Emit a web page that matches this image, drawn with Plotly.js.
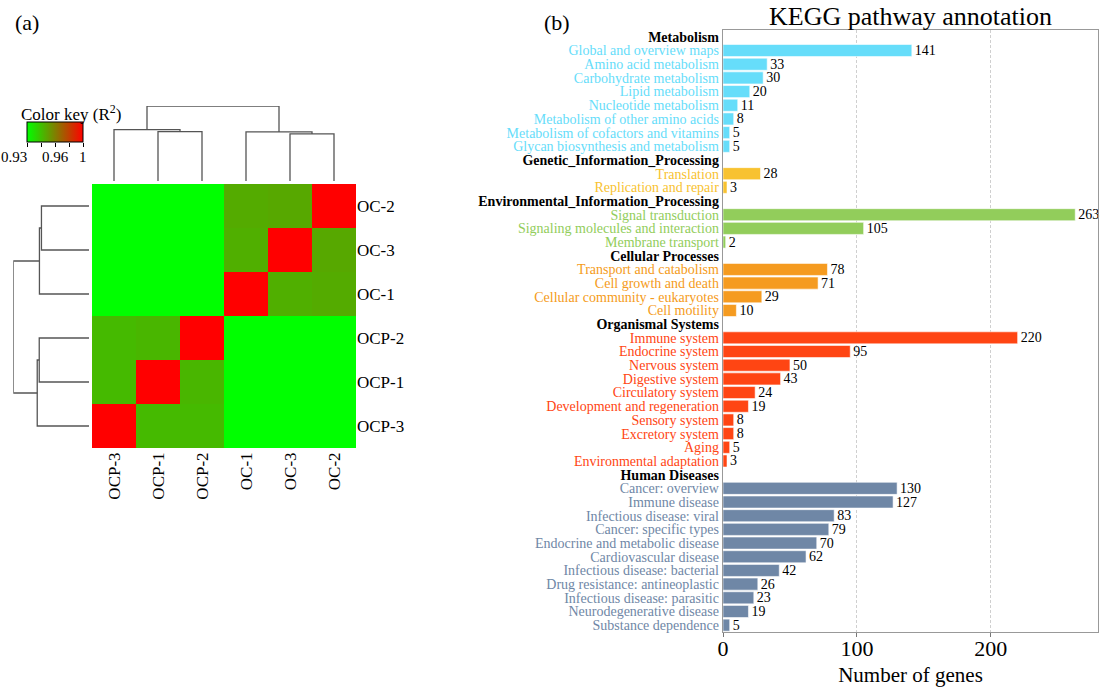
<!DOCTYPE html>
<html>
<head>
<meta charset="utf-8">
<script src="https://cdn.plot.ly/plotly-3.0.1.min.js"></script>
<style>html,body{margin:0;padding:0;background:#fff;}#chart{width:1105px;height:689px;}</style>
</head>
<body>
<div id="chart"></div>
<script>
// ---------------- DATA ----------------
// (a) correlation heatmap, samples in clustered order (left->right, bottom->top)
const sampleOrder = ['OCP-3', 'OCP-1', 'OCP-2', 'OC-1', 'OC-3', 'OC-2'];
const r2Matrix = [
  [1.000, 0.949, 0.949, 0.928, 0.928, 0.928],
  [0.949, 1.000, 0.950, 0.928, 0.928, 0.928],
  [0.949, 0.950, 1.000, 0.928, 0.928, 0.928],
  [0.928, 0.928, 0.928, 1.000, 0.952, 0.953],
  [0.928, 0.928, 0.928, 0.952, 1.000, 0.954],
  [0.928, 0.928, 0.928, 0.953, 0.954, 1.000]
];
// hierarchical clustering merges (mN = result of merge N)
const mergeA = ['OC-3', 'OC-1', 'OCP-1', 'OCP-3', 'm3'];
const mergeB = ['OC-2', 'm0', 'OCP-2', 'm2', 'm1'];
const mergeHeight = [47.3, 49.3, 49.5, 51.5, 75.3];
// colour key
const keyMin = 0.93, keyMax = 1;
const keyTickVals = [0.93, 0.9475, 0.965, 0.9825, 1];
const keyLabelVals = [0.93, 0.965, 1];
const keyLabelText = ['0.93', '0.96', '1'];

// (b) KEGG pathway annotation
const groupNames = ['Metabolism', 'Genetic_Information_Processing', 'Environmental_Information_Processing',
  'Cellular Processes', 'Organismal Systems', 'Human Diseases'];
const metabolismPathways = ['Global and overview maps', 'Amino acid metabolism', 'Carbohydrate metabolism',
  'Lipid metabolism', 'Nucleotide metabolism', 'Metabolism of other amino acids',
  'Metabolism of cofactors and vitamins', 'Glycan biosynthesis and metabolism'];
const metabolismCounts = [141, 33, 30, 20, 11, 8, 5, 5];
const geneticPathways = ['Translation', 'Replication and repair'];
const geneticCounts = [28, 3];
const environmentalPathways = ['Signal transduction', 'Signaling molecules and interaction', 'Membrane transport'];
const environmentalCounts = [263, 105, 2];
const cellularPathways = ['Transport and catabolism', 'Cell growth and death', 'Cellular community - eukaryotes', 'Cell motility'];
const cellularCounts = [78, 71, 29, 10];
const organismalPathways = ['Immune system', 'Endocrine system', 'Nervous system', 'Digestive system',
  'Circulatory system', 'Development and regeneration', 'Sensory system', 'Excretory system', 'Aging',
  'Environmental adaptation'];
const organismalCounts = [220, 95, 50, 43, 24, 19, 8, 8, 5, 3];
const humanPathways = ['Cancer: overview', 'Immune disease', 'Infectious disease: viral', 'Cancer: specific types',
  'Endocrine and metabolic disease', 'Cardiovascular disease', 'Infectious disease: bacterial',
  'Drug resistance: antineoplastic', 'Infectious disease: parasitic', 'Neurodegenerative disease',
  'Substance dependence'];
const humanCounts = [130, 127, 83, 79, 70, 62, 42, 26, 23, 19, 5];
const xTickVals = [0, 100, 200];

// ---------------- STYLE ----------------
const W = 1105, H = 689;
const FONT = '"Liberation Serif", "Times New Roman", Times, serif';
const groupColors = ['#66DDFA', '#F8C230', '#92CD5B', '#F59B20', '#FF4513', '#6F87A6'];
const dendroColor = '#555555';
const keyLabelAnchor = ['right', 'center', 'center'];

const groupPathways = [metabolismPathways, geneticPathways, environmentalPathways, cellularPathways, organismalPathways, humanPathways];
const groupCounts = [metabolismCounts, geneticCounts, environmentalCounts, cellularCounts, organismalCounts, humanCounts];

// ---------------- BUILD ----------------
function dendro(rowWise) {
  const pos = {}, hgt = {};
  sampleOrder.forEach((s, i) => { pos[s] = i; hgt[s] = 0; });
  const xs = [], ys = [];
  for (let k = 0; k < mergeA.length; k++) {
    const a = mergeA[k], b = mergeB[k], h = mergeHeight[k];
    const p = [pos[a], pos[a], pos[b], pos[b]];
    const q = [hgt[a], h, h, hgt[b]];
    if (rowWise) { xs.push(...q, null); ys.push(...p, null); }
    else { xs.push(...p, null); ys.push(...q, null); }
    pos['m' + k] = (pos[a] + pos[b]) / 2; hgt['m' + k] = h;
  }
  return {x: xs, y: ys};
}
const colD = dendro(false), rowD = dendro(true);
const rootH = Math.max(...mergeHeight);

const rows = [], ticktext = [], barY = [], barX = [], barColor = [], barText = [];
groupNames.forEach((g, gi) => {
  rows.push(g);
  ticktext.push('<b style="color:#000">' + g + '</b>');
  groupPathways[gi].forEach((p, pi) => {
    rows.push(p);
    ticktext.push('<span style="color:' + groupColors[gi] + '">' + p + '</span>');
    barY.push(p); barX.push(groupCounts[gi][pi]); barColor.push(groupColors[gi]);
    barText.push(String(groupCounts[gi][pi]));
  });
});

// colour key geometry (px)
const KEY = {l: 27.3, r: 83.3, t: 121.7, b: 142};

const traces = [
  {
    type: 'heatmap', x: sampleOrder, y: sampleOrder, z: r2Matrix, xaxis: 'x', yaxis: 'y',
    zmin: keyMin, zmax: keyMax, colorscale: [[0, '#00FF00'], [1, '#FF0000']],
    hoverinfo: 'skip',
    colorbar: {
      orientation: 'h', x: KEY.l / W, xanchor: 'left', y: 1 - KEY.t / H, yanchor: 'top',
      len: KEY.r - KEY.l, lenmode: 'pixels', thickness: KEY.b - KEY.t, thicknessmode: 'pixels', xpad: 0, ypad: 0,
      outlinewidth: 1, outlinecolor: '#000', ticks: '', showticklabels: false
    }
  },
  {type: 'scatter', mode: 'lines', x: colD.x, y: colD.y, xaxis: 'x2', yaxis: 'y2', cliponaxis: false,
   line: {color: dendroColor, width: 1.3}, hoverinfo: 'skip'},
  {type: 'scatter', mode: 'lines', x: rowD.x, y: rowD.y, xaxis: 'x3', yaxis: 'y3', cliponaxis: false,
   line: {color: dendroColor, width: 1.3}, hoverinfo: 'skip'},
  {
    type: 'bar', orientation: 'h', x: barX, y: barY, xaxis: 'x4', yaxis: 'y4',
    marker: {color: barColor, line: {color: 'rgba(255,255,255,0.7)', width: 0.8}},
    text: barText, textposition: 'outside', constraintext: 'none', cliponaxis: false,
    textfont: {family: FONT, size: 14, color: '#000'}, hoverinfo: 'skip'
  },
  // empty trace so the colour-key tick axis is drawn
  {type: 'scatter', mode: 'markers', x: [], y: [], xaxis: 'x5', yaxis: 'y5', hoverinfo: 'skip'}
];

const annotations = [
  {text: 'Color key (R<sup>2</sup>)', x: 19 / W, y: 1 - 113 / H, xref: 'paper', yref: 'paper',
   xanchor: 'left', yanchor: 'middle', showarrow: false, font: {size: 17, color: '#000'}},
  {text: 'KEGG pathway annotation', x: 910 / W, y: 1 - 17 / H, xref: 'paper', yref: 'paper',
   xanchor: 'center', yanchor: 'middle', showarrow: false, font: {size: 26, color: '#000'}},
  {text: '(a)', x: 27 / W, y: 1 - 23 / H, xref: 'paper', yref: 'paper', xanchor: 'center',
   yanchor: 'middle', showarrow: false, font: {size: 22, color: '#000'}},
  {text: '(b)', x: 557 / W, y: 1 - 22 / H, xref: 'paper', yref: 'paper', xanchor: 'center',
   yanchor: 'middle', showarrow: false, font: {size: 22, color: '#000'}}
];
keyLabelVals.forEach((v, i) => annotations.push({
  text: keyLabelText[i], x: v, xref: 'x5', y: 1 - 157 / H, yref: 'paper', xanchor: keyLabelAnchor[i],
  yanchor: 'middle', showarrow: false, font: {size: 15, color: '#000'}, xshift: i === 0 ? 2 : 0
}));

const hx = [92 / W, 356 / W], hy = [1 - 448 / H, 1 - 184 / H];
const layout = {
  width: W, height: H, margin: {l: 0, r: 0, t: 0, b: 0},
  paper_bgcolor: '#fff', plot_bgcolor: 'rgba(0,0,0,0)', showlegend: false, bargap: 0.12,
  font: {family: FONT, color: '#000'},
  xaxis: {domain: hx, anchor: 'y', type: 'category', tickangle: -90, ticks: '', showgrid: false,
    zeroline: false, showline: false, tickfont: {size: 17, color: '#000'}, automargin: false},
  yaxis: {domain: hy, anchor: 'x', side: 'right', type: 'category', ticks: '', showgrid: false,
    zeroline: false, showline: false, tickfont: {size: 17, color: '#000'}, automargin: false},
  xaxis2: {domain: hx, anchor: 'y2', range: [-0.5, 5.5], visible: false},
  yaxis2: {domain: [1 - 181 / H, 1 - 106 / H], anchor: 'x2', range: [0, rootH], visible: false},
  xaxis3: {domain: [13.3 / W, 89 / W], anchor: 'y3', range: [rootH, 0], visible: false},
  yaxis3: {domain: hy, anchor: 'x3', range: [-0.5, 5.5], visible: false},
  xaxis4: {domain: [723 / W, 1098 / W], anchor: 'y4', range: [0, 280], tickvals: xTickVals,
    ticks: 'outside', ticklen: 4, tickcolor: '#777', tickfont: {size: 22, color: '#000'},
    ticklabelstandoff: -8,
    showgrid: true, gridcolor: '#cfcfcf', griddash: '3px,2px', gridwidth: 1, zeroline: false,
    showline: true, mirror: true, linecolor: '#999', linewidth: 1.3, automargin: false,
    title: {text: 'Number of genes', font: {size: 21, color: '#000'}, standoff: 7}},
  yaxis4: {domain: [1 - 632 / H, 1 - 30 / H], anchor: 'x4', type: 'category', categoryorder: 'array',
    categoryarray: rows, range: [rows.length - 0.5, -0.5], tickvals: rows, ticktext: ticktext, ticks: '',
    tickfont: {size: 14}, showgrid: false, zeroline: false, showline: true, mirror: true,
    linecolor: '#999', linewidth: 1.3, automargin: false},
  // axis laid under the colour key to carry its tick marks
  xaxis5: {domain: [KEY.l / W, KEY.r / W], anchor: 'y5', range: [keyMin, keyMax], tickvals: keyTickVals,
    showticklabels: false, ticks: 'outside', ticklen: 4, tickcolor: '#000', tickwidth: 1,
    showgrid: false, zeroline: false, showline: false, automargin: false, fixedrange: true},
  yaxis5: {domain: [1 - KEY.b / H, 1 - KEY.t / H], anchor: 'x5', range: [0, 1], visible: false, fixedrange: true},
  annotations: annotations
};

Plotly.newPlot('chart', traces, layout, {displayModeBar: false, staticPlot: true});
</script>
</body>
</html>
